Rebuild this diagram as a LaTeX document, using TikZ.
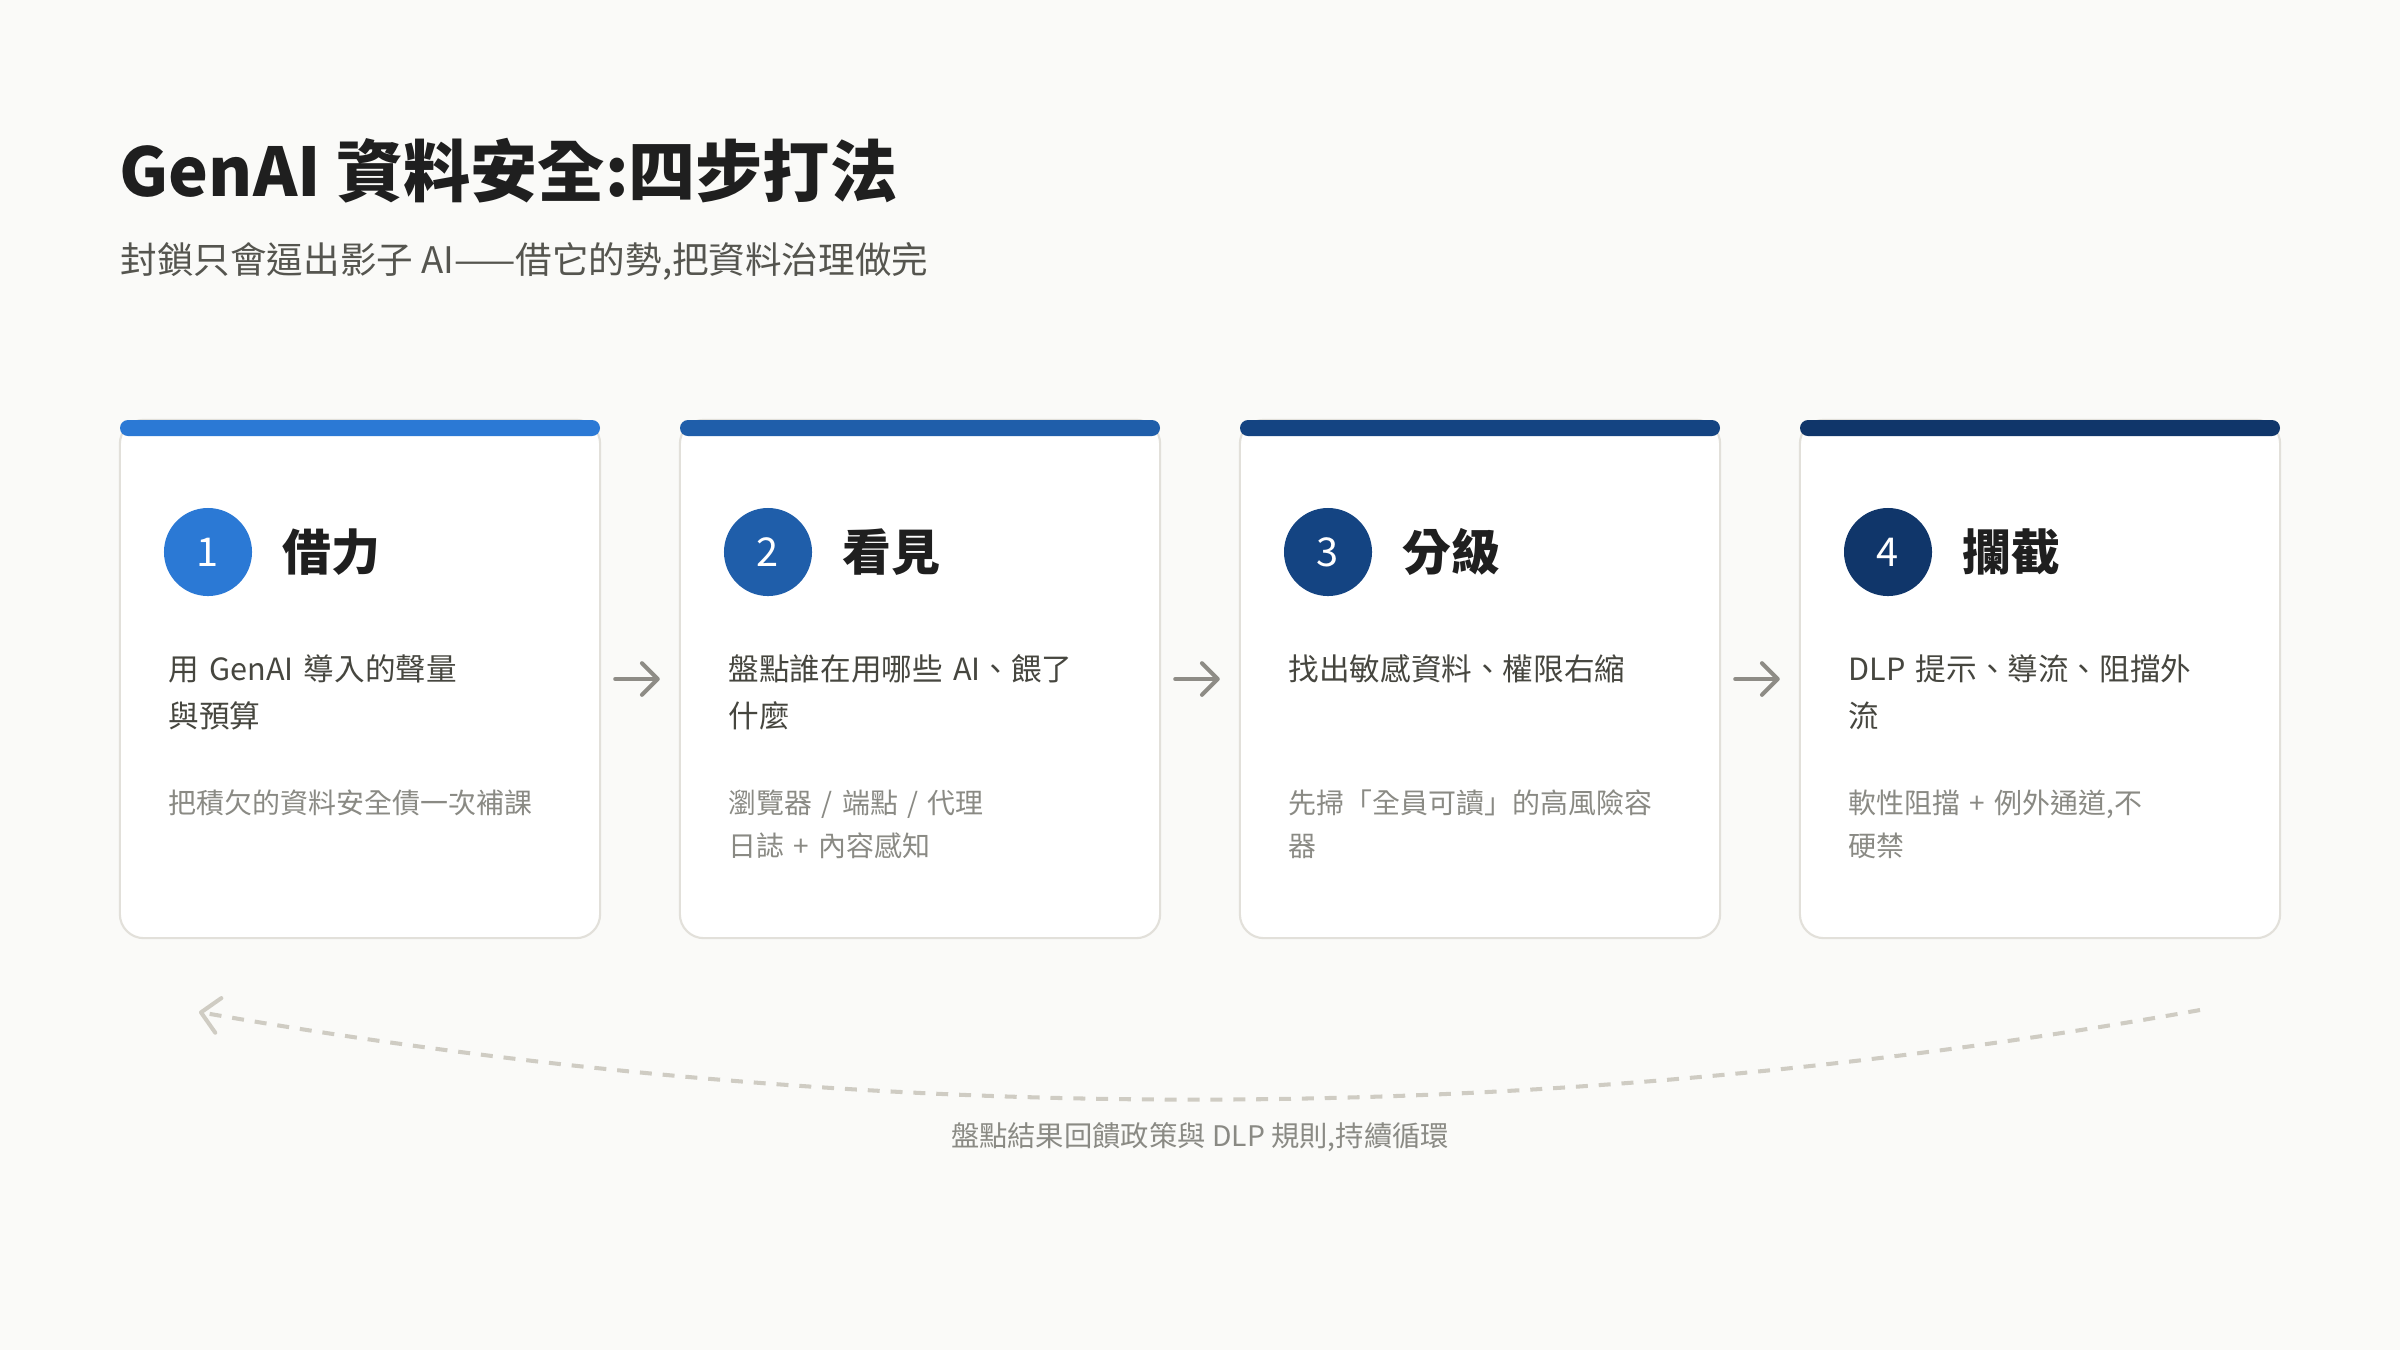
\documentclass[tikz,border=0pt]{standalone}
\usepackage{fontspec}
\setmainfont{Noto Sans CJK TC}
\usetikzlibrary{arrows.meta}
\definecolor{bgc}{HTML}{FAFAF8}
\definecolor{cardborder}{HTML}{E2E0DA}
\definecolor{ttl}{HTML}{1F1F1F}
\definecolor{subt}{HTML}{55554F}
\definecolor{maintxt}{HTML}{46463F}
\definecolor{greytxt}{HTML}{8A8A84}
\definecolor{arrowc}{HTML}{8E8C86}
\definecolor{dashc}{HTML}{CFCCC3}
\definecolor{blueA}{HTML}{2B79D5}
\definecolor{blueB}{HTML}{1F5EAA}
\definecolor{blueC}{HTML}{144482}
\definecolor{blueD}{HTML}{10366A}
\newcommand{\fTitle}{\fontsize{19.1pt}{23pt}\selectfont\bfseries}
\newcommand{\fSub}{\fontsize{10.4pt}{12pt}\selectfont}
\newcommand{\fHead}{\fontsize{13.9pt}{16pt}\selectfont\bfseries}
\newcommand{\fMain}{\fontsize{8.7pt}{13.4pt}\selectfont}
\newcommand{\fNote}{\fontsize{7.95pt}{12.5pt}\selectfont}
\newcommand{\fLbl}{\fontsize{8.05pt}{10pt}\selectfont}
\newcommand{\fNum}{\fontsize{11.3pt}{12pt}\selectfont}
\begin{document}
\begin{tikzpicture}[x=0.01cm,y=-0.01cm,
  card/.style={draw=cardborder, line width=0.6pt, fill=white, rounded corners=0.24cm,
    minimum width=4.8cm, minimum height=5.18cm, inner sep=0},
  numcirc/.style={circle, minimum size=0.88cm, inner sep=0, text=white, font=\fNum},
  headtxt/.style={anchor=west, inner sep=0, text=ttl, font=\fHead},
  maintext/.style={anchor=base west, inner sep=0, text width=4cm, align=left, text=maintxt, font=\fMain},
  notetext/.style={anchor=base west, inner sep=0, text width=4cm, align=left, text=greytxt, font=\fNote},
  steparrow/.style={draw=arrowc, line width=1.15pt, line cap=round,
    -{Straight Barb[length=4.5pt, width=9pt, round]}, shorten <=0.14cm, shorten >=0.19cm},
  loopline/.style={draw=dashc, line width=1.15pt, dash pattern=on 3.4pt off 3.1pt,
    -{Straight Barb[length=5pt, width=10pt, round]}}
]
\useasboundingbox (0,0) rectangle (2400,1350);
\fill[bgc] (0,0) rectangle (2400,1350);

% header
\node[anchor=base west, inner sep=0, text=ttl, font=\fTitle] (title) at (119,196) {GenAI 資料安全:四步打法};
\node[anchor=base west, inner sep=0, text=subt, font=\fSub] (subtitle) at (120,273) {封鎖只會逼出影子 AI——借它的勢,把資料治理做完};

% cards
\foreach \i/\cx/\col in {1/360/blueA, 2/920/blueB, 3/1480/blueC, 4/2040/blueD}{
  \node[card] (c\i) at (\cx,679) {};
  \fill[\col, rounded corners=0.08cm] (\cx-240,420) rectangle (\cx+240,436);
  \node[numcirc, fill=\col] (n\i) at (\cx-152,552) {\i};
}
\node[headtxt] (h1) at (282,552) {借力};
\node[headtxt] (h2) at (842,552) {看見};
\node[headtxt] (h3) at (1402,552) {分級};
\node[headtxt] (h4) at (1962,552) {攔截};

\node[maintext] (m1) at (168,680) {用 GenAI 導入的聲量\\與預算};
\node[maintext] (m2) at (728,680) {盤點誰在用哪些 AI、餵了\\什麼};
\node[maintext] (m3) at (1288,680) {找出敏感資料、權限右縮};
\node[maintext] (m4) at (1848,680) {DLP 提示、導流、阻擋外\\流};

\node[notetext] (s1) at (168,813) {把積欠的資料安全債一次補課};
\node[notetext] (s2) at (728,813) {瀏覽器 / 端點 / 代理\\日誌 + 內容感知};
\node[notetext] (s3) at (1288,813) {先掃「全員可讀」的高風險容\\器};
\node[notetext] (s4) at (1848,813) {軟性阻擋 + 例外通道,不\\硬禁};

% step arrows
\draw[steparrow] (c1.east) -- (c2.west);
\draw[steparrow] (c2.east) -- (c3.west);
\draw[steparrow] (c3.east) -- (c4.west);

% feedback loop
\coordinate (fbR) at (2200,1010);
\coordinate (fbL) at (199,1012);
\draw[loopline] (fbR) .. controls (1533,1129) and (866,1129) .. (fbL);
\node[inner sep=0, text=greytxt, font=\fLbl] (lbl) at (1200,1137) {盤點結果回饋政策與 DLP 規則,持續循環};
\end{tikzpicture}
\end{document}
